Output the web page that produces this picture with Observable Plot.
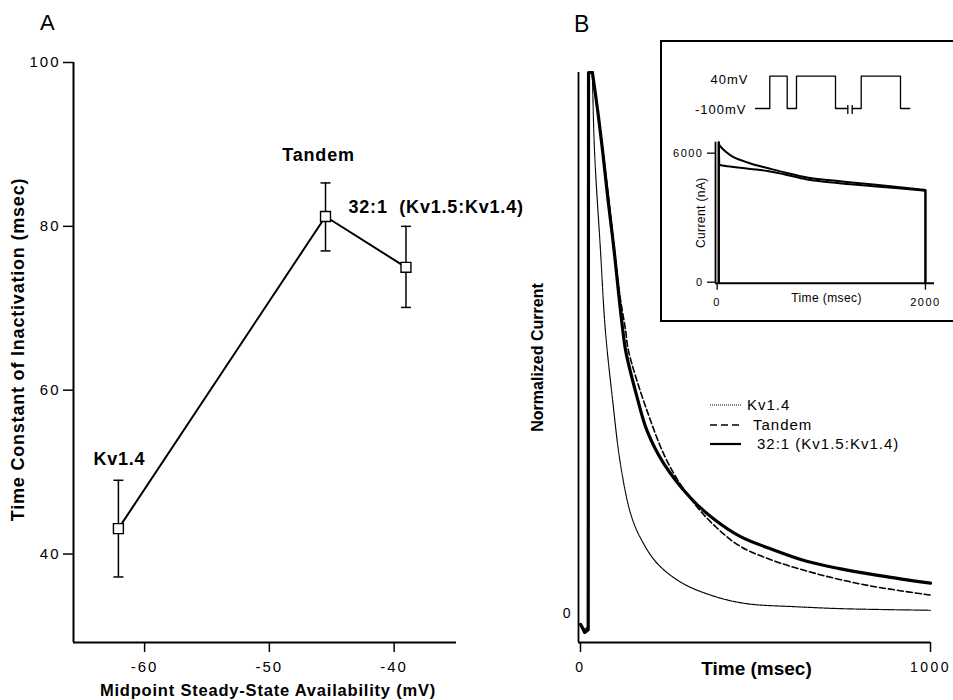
<!DOCTYPE html>
<html><head><meta charset="utf-8">
<script src="https://cdn.jsdelivr.net/npm/d3@7"></script>
<script src="https://cdn.jsdelivr.net/npm/@observablehq/plot@0.6"></script>
<style>
html,body{margin:0;padding:0;background:#fff;}
#root{position:relative;width:953px;height:700px;overflow:hidden;font-family:"Liberation Sans",Arial,Helvetica,sans-serif;color:#000;background:#fff;}
#root > svg{position:absolute;left:0;top:0;}
#inset-box{position:absolute;left:660px;top:40px;width:300px;height:282px;border:2px solid #000;background:#fff;box-sizing:border-box;}
</style>
</head><body><div id="root"></div>
<script>
const FONT = '"Liberation Sans", Arial, Helvetica, sans-serif';

// ---------- Panel A data ----------
const constructs = ["Kv1.4", "Tandem", "32:1  (Kv1.5:Kv1.4)"];
const midpointMV = [-62.1, -45.5, -39.05];
const tauMs = [43.1, 81.2, 75.0];
const tauLow = [37.2, 77.0, 70.1];
const tauHigh = [49.0, 85.3, 80.0];
const aXTicks = [-60, -50, -40];
const aXTickLabels = ["-60", "-50", "-40"];
const aYTicks = [40, 60, 80, 100];
const aYTickLabels = ["40", "60", "80", "100"];

// ---------- Panel B data (normalized current vs time, msec) ----------
// first five points: holding baseline and the step; the rest: the decay
const kv14Time = [0, 12, 22, 23, 34, 40, 57, 71, 91, 114, 143, 171, 220, 294, 391, 457, 506, 600, 743, 1000];
const kv14Norm = [-0.02, -0.03, -0.025, 1.0, 1.0, 0.856, 0.672, 0.524, 0.399, 0.277, 0.185, 0.14, 0.092, 0.055, 0.03, 0.02, 0.016, 0.013, 0.009, 0.006];
const tandemTime = [0, 12, 22, 23, 34, 49, 63, 80, 96, 112, 129, 137, 190, 251, 323, 390, 457, 550, 649, 740, 837, 1000];
const tandemNorm = [-0.02, -0.03, -0.025, 1.0, 1.0, 0.93, 0.86, 0.77, 0.68, 0.59, 0.523, 0.486, 0.375, 0.277, 0.205, 0.158, 0.124, 0.098, 0.078, 0.063, 0.05, 0.034];
const ratioTime = [0, 12, 22, 23, 34, 49, 63, 79, 96, 111, 121, 129, 162, 190, 238, 314, 380, 457, 550, 649, 740, 837, 1000];
const ratioNorm = [-0.02, -0.035, -0.03, 1.0, 1.0, 0.93, 0.856, 0.763, 0.671, 0.579, 0.523, 0.486, 0.399, 0.338, 0.277, 0.214, 0.175, 0.142, 0.118, 0.096, 0.083, 0.072, 0.056];
const bXTicks = [0, 1000];
const bXTickLabels = ["0", "1000"];
const bYTicks = [0];
const bYTickLabels = ["0"];
const legendLabels = ["Kv1.4", "Tandem", "32:1  (Kv1.5:Kv1.4)"];

// ---------- Inset data ----------
const protoSeg = [0, 0, 0, 0, 0, 0, 0, 0, 0, 0, 1, 1, 1, 1, 1, 1];
const protoTime = [0, 14.3, 14.3, 31.7, 31.7, 41, 41, 80, 80, 92.3, 96.7, 105.7, 105.7, 145, 145, 154.3];
const protoMV = [-100, -100, 40, 40, -100, -100, 40, 40, -100, -100, -100, -100, 40, 40, -100, -100];
const breakTime = [92.3, 96.7];
const protoLabels = ["40mV", "-100mV"];
const protoLabelMV = [40, -100];

const insetUpperTime = [15, 15, 22, 80, 157, 320, 483, 650, 864, 1200, 1500, 1981, 2000, 2000];
const insetUpperNA = [0, 6510, 6358, 6079, 5814, 5521, 5311, 5102, 4870, 4684, 4544, 4298, 4290, 0];
const insetLowerTime = [15, 15, 20, 48, 157, 320, 483, 650, 864, 1200, 1500, 1981, 2000, 2000];
const insetLowerNA = [0, 6510, 5450, 5428, 5358, 5265, 5172, 5009, 4777, 4591, 4465, 4265, 4260, 0];
const insetXTicks = [0, 2000];
const insetXTickLabels = ["0", "2000"];
const insetYTicks = [0, 6000];
const insetYTickLabels = ["0", "6000"];

const root = document.getElementById("root");
const baseStyle = {background: "none", fontFamily: FONT, color: "#000", overflow: "visible"};
function spacing(svg, px, sel) {
  d3.select(svg).selectAll(sel).attr("letter-spacing", px);
}
const rows = (t, v) => t.map((d, i) => ({t: d, n: v[i]}));
// split a trace into a straight part (step) and a smooth part (decay)
function traceMarks(t, v, cuts, opts) {
  const r = rows(t, v);
  const marks = [];
  for (let k = 0; k < cuts.length - 1; k++) {
    const part = r.slice(cuts[k][0], cuts[k + 1][0] + 1);
    marks.push(Plot.line(part, {x: "t", y: "n", ...opts, curve: cuts[k][1]}));
  }
  return marks;
}

// ---------- Panel A ----------
const dataA = constructs.map((c, i) => ({name: c, x: midpointMV[i], y: tauMs[i], lo: tauLow[i], hi: tauHigh[i]}));
const CAP = 0.4;
const plotA = Plot.plot({
  width: 953, height: 700,
  marginLeft: 73, marginRight: 497, marginTop: 62, marginBottom: 58,
  x: {domain: [-65.7, -35]},
  y: {domain: [29.2, 100]},
  style: {...baseStyle, fontSize: "15px"},
  marks: [
    Plot.ruleX([-65.7], {strokeWidth: 2}),
    Plot.ruleY([29.2], {strokeWidth: 2}),
    Plot.axisY({ticks: aYTicks, tickFormat: d => aYTickLabels[aYTicks.indexOf(d)], tickSize: 10, tickPadding: 3, label: null, strokeWidth: 1.5, fontSize: 15}),
    Plot.axisX({ticks: aXTicks, tickFormat: d => aXTickLabels[aXTicks.indexOf(d)], tickSize: 10, tickPadding: 9, label: null, strokeWidth: 1.5, fontSize: 15}),
    Plot.ruleX(dataA, {x: "x", y1: "lo", y2: "hi", strokeWidth: 1.5}),
    Plot.link(dataA, {x1: d => d.x - CAP, x2: d => d.x + CAP, y1: "lo", y2: "lo", strokeWidth: 1.5}),
    Plot.link(dataA, {x1: d => d.x - CAP, x2: d => d.x + CAP, y1: "hi", y2: "hi", strokeWidth: 1.5}),
    Plot.line(dataA, {x: "x", y: "y", strokeWidth: 2}),
    Plot.dot(dataA, {x: "x", y: "y", symbol: "square", r: 5.6, fill: "white", stroke: "black", strokeWidth: 1.4}),
    Plot.text([dataA[0]], {x: "x", y: "y", text: "name", dx: 1, dy: -69, fontWeight: "bold", fontSize: 18}),
    Plot.text([dataA[1]], {x: "x", y: "y", text: "name", dx: -7, dy: -61, fontWeight: "bold", fontSize: 18}),
    Plot.text([dataA[2]], {x: "x", y: "y", text: "name", dx: -57.5, dy: -60, textAnchor: "start", fontWeight: "bold", fontSize: 18}),
    Plot.text(["Time Constant of Inactivation (msec)"], {frameAnchor: "left", textAnchor: "middle", lineAnchor: "middle", dx: -55, dy: -3, rotate: -90, fontWeight: "bold", fontSize: 18}),
    Plot.text(["Midpoint Steady-State Availability (mV)"], {frameAnchor: "bottom", textAnchor: "middle", lineAnchor: "middle", dx: 3, dy: 48, fontWeight: "bold", fontSize: 16.5})
  ]
});
spacing(plotA, "2px", 'g[aria-label="y-axis tick label"] text, g[aria-label="x-axis tick label"] text');
spacing(plotA, "0.8px", 'g[aria-label="text"] text');
root.appendChild(plotA);

// ---------- Panel B ----------
const stepCuts = (n) => [[0, "linear"], [4, "catmull-rom"], [n - 1, null]];
const plotB = Plot.plot({
  width: 953, height: 700,
  marginLeft: 578, marginRight: 23, marginTop: 72, marginBottom: 58,
  x: {domain: [-5.7, 1000]},
  y: {domain: [-0.0536, 1]},
  style: {...baseStyle, fontSize: "14px"},
  marks: [
    Plot.ruleX([-5.7], {strokeWidth: 1.8}),
    Plot.ruleY([-0.0536], {strokeWidth: 2}),
    Plot.axisX({ticks: bXTicks, tickFormat: d => bXTickLabels[bXTicks.indexOf(d)], tickSize: 10, tickPadding: 10, label: null, strokeWidth: 1.5, fontSize: 14}),
    Plot.axisY({ticks: bYTicks, tickFormat: d => bYTickLabels[bYTicks.indexOf(d)], tickSize: 0, tickPadding: 8, label: null, fontSize: 14}),
    ...traceMarks(kv14Time, kv14Norm, stepCuts(kv14Time.length), {strokeWidth: 1.2, strokeDasharray: "1,1"}),
    ...traceMarks(tandemTime, tandemNorm, stepCuts(tandemTime.length), {strokeWidth: 1.6, strokeDasharray: "6,3"}),
    ...traceMarks(ratioTime, ratioNorm, stepCuts(ratioTime.length), {strokeWidth: 3.2}),
    Plot.text(["Normalized Current"], {frameAnchor: "left", textAnchor: "middle", lineAnchor: "middle", dx: -40.5, rotate: -90, fontWeight: "bold", fontSize: 16}),
    Plot.text(["Time (msec)"], {frameAnchor: "bottom", textAnchor: "middle", lineAnchor: "middle", dx: 2, dy: 26, fontWeight: "bold", fontSize: 19})
  ]
});
spacing(plotB, "2.5px", 'g[aria-label="x-axis tick label"] text');
root.appendChild(plotB);

// ---------- Overlay: panel letters and legend ----------
const ov = d3.create("svg").attr("width", 953).attr("height", 700)
  .style("font-family", FONT);
ov.append("text").attr("x", 40).attr("y", 30).attr("font-size", 22).text("A");
ov.append("text").attr("x", 574).attr("y", 32).attr("font-size", 23).text("B");
const legY = [405, 425, 444];
const legX = [747, 753, 757];
const legDash = ["1,1", "7,4", null];
const legW = [1.2, 1.6, 2.2];
legendLabels.forEach((lab, i) => {
  const ln = ov.append("line").attr("x1", 710).attr("x2", 741).attr("y1", legY[i]).attr("y2", legY[i])
    .attr("stroke", "#000").attr("stroke-width", legW[i]);
  if (legDash[i]) ln.attr("stroke-dasharray", legDash[i]);
  ov.append("text").attr("x", legX[i]).attr("y", legY[i] + 5.3).attr("font-size", 15)
    .attr("letter-spacing", "1px").text(lab);
});
root.appendChild(ov.node());

// ---------- Inset box ----------
const box = document.createElement("div");
box.id = "inset-box";
root.appendChild(box);

// protocol
const protoRows = protoTime.map((t, i) => ({t, v: protoMV[i], seg: protoSeg[i]}));
const plotP = Plot.plot({
  width: 953, height: 700,
  marginLeft: 755, marginRight: 43.7, marginTop: 75.7, marginBottom: 592,
  x: {domain: [0, 154.3], axis: null},
  y: {domain: [-100, 40], axis: null},
  style: {...baseStyle, fontSize: "13px"},
  marks: [
    Plot.line(protoRows, {x: "t", y: "v", z: "seg", strokeWidth: 1.3}),
    Plot.ruleX(breakTime, {y1: -87, y2: -126, strokeWidth: 1.3}),
    Plot.text([0], {x: d => d, y: () => protoLabelMV[0], text: () => protoLabels[0], textAnchor: "end", dx: -7, dy: 4, fontSize: 13}),
    Plot.text([0], {x: d => d, y: () => protoLabelMV[1], text: () => protoLabels[1], textAnchor: "end", dx: -9, dy: 1, fontSize: 13})
  ]
});
spacing(plotP, "1px", 'g[aria-label="text"] text');
root.appendChild(plotP);

// inset currents
const insetCuts = (n) => [[0, "linear"], [2, "catmull-rom"], [n - 3, "linear"], [n - 1, null]];
const plotI = Plot.plot({
  width: 953, height: 700,
  marginLeft: 715, marginRight: 19, marginTop: 141.7, marginBottom: 417.3,
  x: {domain: [-16, 2087]},
  y: {domain: [-47, 6510]},
  style: {...baseStyle, fontSize: "11px"},
  marks: [
    Plot.ruleX([-16], {strokeWidth: 1.8}),
    Plot.ruleY([-47], {strokeWidth: 2}),
    Plot.axisY({ticks: insetYTicks, tickFormat: d => insetYTickLabels[insetYTicks.indexOf(d)], tickSize: 8, tickPadding: 4, label: null, strokeWidth: 1.3, fontSize: 11}),
    Plot.axisX({ticks: insetXTicks, tickFormat: d => insetXTickLabels[insetXTicks.indexOf(d)], tickSize: 7, tickPadding: 8, label: null, strokeWidth: 1.3, fontSize: 11}),
    ...traceMarks(insetUpperTime, insetUpperNA, insetCuts(insetUpperTime.length), {strokeWidth: 2}),
    ...traceMarks(insetLowerTime, insetLowerNA, insetCuts(insetLowerTime.length), {strokeWidth: 2}),
    Plot.text(["Current (nA)"], {frameAnchor: "left", textAnchor: "middle", lineAnchor: "middle", dx: -14.3, rotate: -90, fontSize: 12}),
    Plot.text(["Time (msec)"], {frameAnchor: "bottom", textAnchor: "middle", lineAnchor: "middle", dx: 1.5, dy: 15.3, fontSize: 12})
  ]
});
spacing(plotI, "1.5px", 'g[aria-label="y-axis tick label"] text, g[aria-label="x-axis tick label"] text');
spacing(plotI, "0.4px", 'g[aria-label="text"] text');
root.appendChild(plotI);
</script></body></html>
